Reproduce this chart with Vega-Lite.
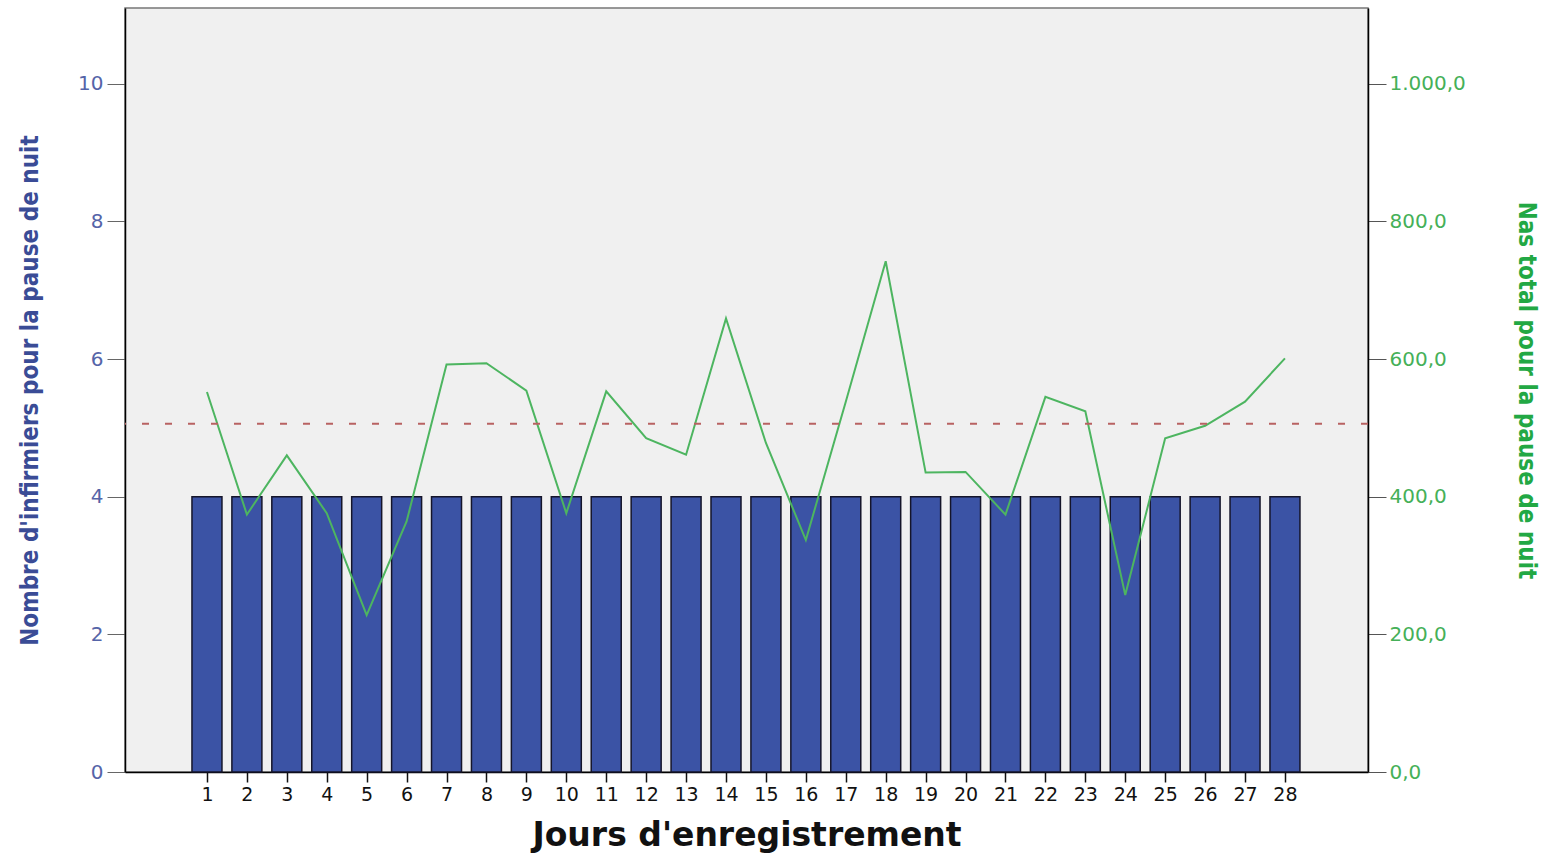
{
  "$schema": "https://vega.github.io/schema/vega-lite/v6.json",
  "width": 1243,
  "height": 764,
  "autosize": "none",
  "padding": {"left": 125, "top": 8, "right": 187, "bottom": 81},
  "background": "white",
  "config": {"view": {"fill": "#f0f0f0", "stroke": "#777", "strokeWidth": 1.5}},
  "data": {"values": [
    {"jour": 1, "infirmiers": 4, "nas": 552},
    {"jour": 2, "infirmiers": 4, "nas": 374},
    {"jour": 3, "infirmiers": 4, "nas": 460},
    {"jour": 4, "infirmiers": 4, "nas": 376},
    {"jour": 5, "infirmiers": 4, "nas": 228},
    {"jour": 6, "infirmiers": 4, "nas": 364},
    {"jour": 7, "infirmiers": 4, "nas": 592},
    {"jour": 8, "infirmiers": 4, "nas": 594},
    {"jour": 9, "infirmiers": 4, "nas": 554},
    {"jour": 10, "infirmiers": 4, "nas": 376},
    {"jour": 11, "infirmiers": 4, "nas": 553},
    {"jour": 12, "infirmiers": 4, "nas": 485},
    {"jour": 13, "infirmiers": 4, "nas": 461},
    {"jour": 14, "infirmiers": 4, "nas": 659},
    {"jour": 15, "infirmiers": 4, "nas": 478},
    {"jour": 16, "infirmiers": 4, "nas": 337},
    {"jour": 17, "infirmiers": 4, "nas": 538},
    {"jour": 18, "infirmiers": 4, "nas": 742},
    {"jour": 19, "infirmiers": 4, "nas": 435},
    {"jour": 20, "infirmiers": 4, "nas": 436},
    {"jour": 21, "infirmiers": 4, "nas": 374},
    {"jour": 22, "infirmiers": 4, "nas": 545},
    {"jour": 23, "infirmiers": 4, "nas": 524},
    {"jour": 24, "infirmiers": 4, "nas": 257},
    {"jour": 25, "infirmiers": 4, "nas": 485},
    {"jour": 26, "infirmiers": 4, "nas": 503},
    {"jour": 27, "infirmiers": 4, "nas": 538},
    {"jour": 28, "infirmiers": 4, "nas": 601}
  ]},
  "layer": [
    {
      "mark": {"type": "bar", "fill": "#3b53a5", "stroke": "#15152a", "strokeWidth": 1.5, "width": 30},
      "encoding": {
        "x": {
          "field": "jour", "type": "quantitative",
          "scale": {"domain": [-1.053, 30.08], "nice": false, "zero": false, "padding": 0},
          "axis": {
            "title": "Jours d'enregistrement",
            "titleFont": "DejaVu Sans", "titleFontSize": 33, "titleFontWeight": "bold", "titleColor": "#111",
            "titleY": 63, "titleBaseline": "middle",
            "values": [1, 2, 3, 4, 5, 6, 7, 8, 9, 10, 11, 12, 13, 14, 15, 16, 17, 18, 19, 20, 21, 22, 23, 24, 25, 26, 27, 28],
            "format": "d", "labelFlush": false, "labelOverlap": false,
            "labelAngle": 0, "labelFont": "DejaVu Sans", "labelFontSize": 19, "labelColor": "#111",
            "labelPadding": 3, "tickSize": 10, "tickColor": "#111", "tickWidth": 1.5,
            "domainColor": "#000", "domainWidth": 1.5, "grid": false
          }
        },
        "y": {
          "field": "infirmiers", "type": "quantitative",
          "scale": {"domain": [0, 11.1], "nice": false, "zero": true},
          "axis": {
            "title": "Nombre d'infirmiers pour la pause de nuit",
            "titleFont": "Liberation Sans Narrow, DejaVu Sans Condensed, sans-serif", "titleFontSize": 24, "titleFontWeight": "bold",
            "titleColor": "#3a4c96", "titleX": -95, "titleY": 382, "titleBaseline": "middle", "titleAngle": -90,
            "values": [0, 2, 4, 6, 8, 10],
            "labelFont": "DejaVu Sans", "labelFontSize": 20, "labelColor": "#5564a8", "labelPadding": 4,
            "tickSize": 18, "tickColor": "#666", "domainColor": "#000", "domainWidth": 1.5, "grid": false
          }
        }
      }
    },
    {
      "mark": {"type": "line", "color": "#4db560", "strokeWidth": 2},
      "encoding": {
        "x": {"field": "jour", "type": "quantitative"},
        "y": {
          "field": "nas", "type": "quantitative",
          "scale": {"domain": [0, 1110], "nice": false},
          "axis": {
            "orient": "right",
            "title": "Nas total pour la pause de nuit",
            "titleFont": "Liberation Sans Narrow, DejaVu Sans Condensed, sans-serif", "titleFontSize": 24, "titleFontWeight": "bold",
            "titleColor": "#22a844", "titleX": 157, "titleY": 382, "titleBaseline": "middle", "titleAngle": 90,
            "values": [0, 200, 400, 600, 800, 1000],
            "labelExpr": "replace(replace(replace(format(datum.value, ',.1f'), ',', '#'), '.', ','), '#', '.')",
            "labelFont": "DejaVu Sans", "labelFontSize": 20, "labelColor": "#45b058", "labelPadding": 3,
            "tickSize": 18, "tickColor": "#555", "domainColor": "#000", "domainWidth": 1.5, "grid": false
          }
        }
      }
    },
    {
      "data": {"values": [{"reference": 506}]},
      "mark": {"type": "rule", "color": "#b86262", "strokeDash": [7, 16], "strokeWidth": 2},
      "encoding": {
        "y": {"field": "reference", "type": "quantitative", "scale": {"domain": [0, 1110], "nice": false}, "axis": null}
      }
    }
  ],
  "resolve": {"scale": {"y": "independent"}}
}
